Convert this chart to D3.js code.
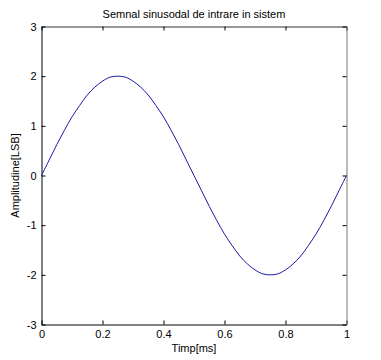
<!DOCTYPE html>
<html><head><meta charset="utf-8">
<script src="https://cdn.jsdelivr.net/npm/d3@7"></script>
<style>body{margin:0;background:#fff}svg{display:block}text{font-family:"Liberation Sans",Arial,sans-serif}</style>
</head><body><svg id="c" width="381" height="360"></svg>
<script>
const timeMs = [0,0.025,0.05,0.075,0.1,0.125,0.15,0.175,0.2,0.225,0.25,0.275,0.3,0.325,0.35,0.375,0.4,0.425,0.45,0.475,0.5,0.525,0.55,0.575,0.6,0.625,0.65,0.675,0.7,0.725,0.75,0.775,0.8,0.825,0.85,0.875,0.9,0.925,0.95,0.975,1];
const amplitude = [0,0.31,0.62,0.91,1.18,1.41,1.62,1.78,1.90,1.98,2.00,1.98,1.90,1.78,1.62,1.41,1.18,0.91,0.62,0.31,0,-0.31,-0.62,-0.91,-1.18,-1.41,-1.62,-1.78,-1.90,-1.98,-2.00,-1.98,-1.90,-1.78,-1.62,-1.41,-1.18,-0.91,-0.62,-0.31,0];
const xTicks = [0,0.2,0.4,0.6,0.8,1];
const yTicks = [-3,-2,-1,0,1,2,3];
const title = "Semnal sinusodal de intrare in sistem";
const xLabel = "Timp[ms]";
const yLabel = "Amplitudine[LSB]";

const L=41.5,R=346.5,T=26.5,B=324.5;
const svg=d3.select("#c");
const x=d3.scaleLinear().domain([0,1]).range([L,R]);
const y=d3.scaleLinear().domain([-3,3]).range([B,T]);
const fmt=d=>String(d);
const tl=4;
svg.append("g").attr("transform",`translate(0,${B})`)
  .call(d3.axisBottom(x).tickValues(xTicks).tickSizeInner(-tl).tickSizeOuter(0).tickPadding(6).tickFormat(fmt))
  .call(g=>g.select(".domain").attr("stroke","#000"));
svg.append("g").attr("transform",`translate(0,${T})`)
  .call(d3.axisTop(x).tickValues(xTicks).tickSizeInner(-tl).tickSizeOuter(0).tickFormat(""))
  .call(g=>g.select(".domain").attr("stroke","#333"));
svg.append("g").attr("transform",`translate(${L},0)`)
  .call(d3.axisLeft(y).tickValues(yTicks).tickSizeInner(-tl).tickSizeOuter(0).tickPadding(5).tickFormat(fmt))
  .call(g=>g.select(".domain").attr("stroke","#000"));
svg.append("g").attr("transform",`translate(${R},0)`)
  .call(d3.axisRight(y).tickValues(yTicks).tickSizeInner(-tl).tickSizeOuter(0).tickFormat(""))
  .call(g=>g.select(".domain").attr("stroke","#777"));
svg.selectAll(".tick text").attr("font-size",11).attr("font-family","Liberation Sans,Arial,sans-serif").attr("fill","#000");
svg.selectAll(".tick line").attr("stroke","#000");

const line=d3.line().x((d,i)=>x(timeMs[i])).y(d=>y(d)).curve(d3.curveCatmullRom);
svg.append("path").datum(amplitude).attr("d",line).attr("fill","none").attr("stroke","#1a1aa8").attr("stroke-width",1);

svg.append("text").attr("x",(L+R)/2).attr("y",18).attr("text-anchor","middle").attr("font-size",11).text(title);
svg.append("text").attr("x",(L+R)/2).attr("y",352).attr("text-anchor","middle").attr("font-size",11).text(xLabel);
svg.append("text").attr("transform",`translate(19,${(T+B)/2}) rotate(-90)`).attr("text-anchor","middle").attr("font-size",11).text(yLabel);
</script></body></html>
